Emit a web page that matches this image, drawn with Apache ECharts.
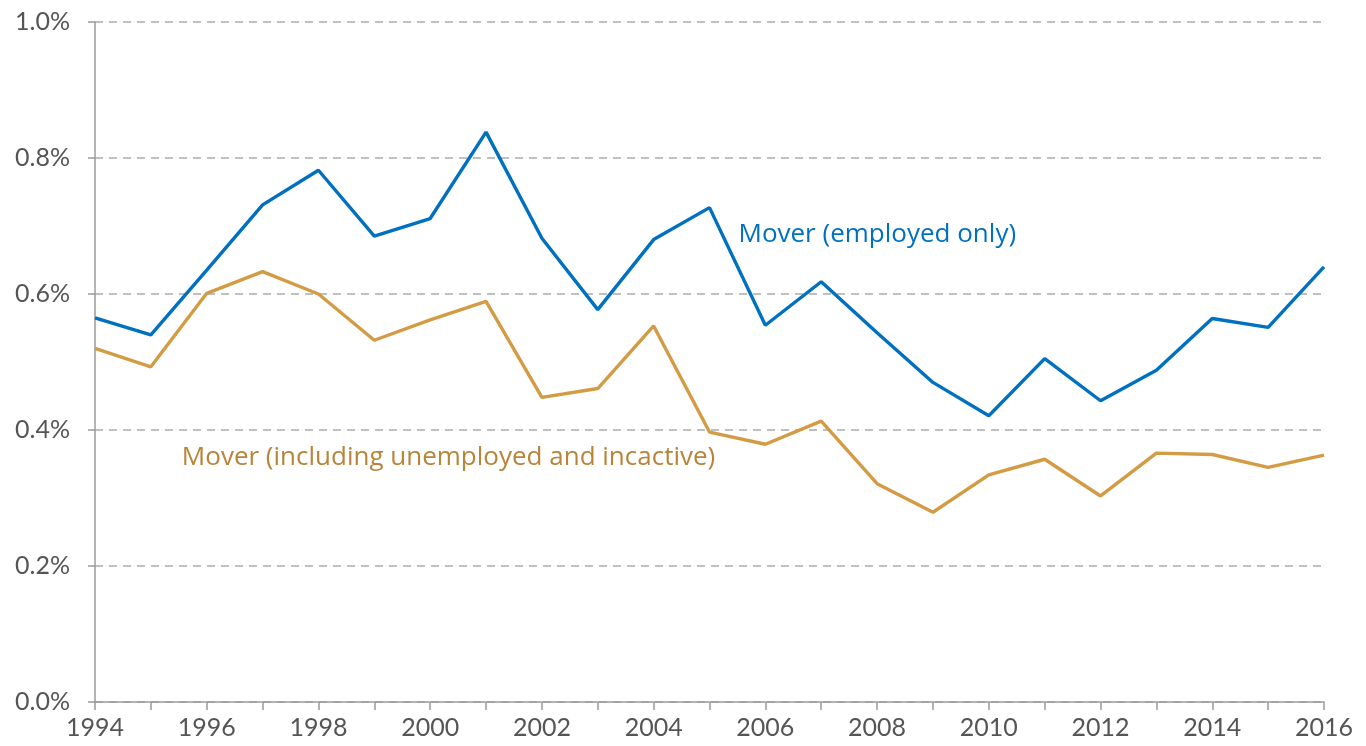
<!DOCTYPE html>
<html>
<head>
<meta charset="utf-8">
<script src="https://cdn.jsdelivr.net/npm/echarts@6/dist/echarts.min.js"></script>
<style>html,body{margin:0;padding:0;background:#fff}#c{width:1366px;height:746px}</style>
</head>
<body>
<div id="c"></div>
<script>
var years = ['1994','1995','1996','1997','1998','1999','2000','2001','2002','2003','2004','2005','2006','2007','2008','2009','2010','2011','2012','2013','2014','2015','2016'];
var employedOnly = [0.565,0.540,0.635,0.731,0.782,0.685,0.711,0.838,0.682,0.577,0.680,0.727,0.554,0.618,0.543,0.470,0.421,0.505,0.443,0.488,0.564,0.551,0.640];
var includingUnemployed = [0.520,0.493,0.601,0.633,0.600,0.532,0.562,0.589,0.448,0.461,0.553,0.397,0.379,0.413,0.321,0.279,0.334,0.357,0.303,0.366,0.364,0.345,0.363];
var yTicks = [0,0.2,0.4,0.6,0.8,1.0];
var labelEmployed = 'Mover (employed only)';
var labelIncluding = 'Mover (including unemployed and incactive)';

var chart = echarts.init(document.getElementById('c'));
var font = 'Lato, "Open Sans", sans-serif';
var annFont = '"Open Sans", Lato, sans-serif';
chart.setOption({
  animation: false,
  grid: {left: 95, right: 42, top: 22, bottom: 44},
  xAxis: {
    type: 'category',
    data: years,
    boundaryGap: false,
    axisLine: {lineStyle: {color: '#9a9a9a', width: 1.5}},
    axisTick: {show: true, interval: 0, length: 8, lineStyle: {color: '#9a9a9a', width: 1.5}},
    axisLabel: {interval: 1, color: '#555', fontSize: 25, fontFamily: font, margin: 13},
    splitLine: {show: false}
  },
  yAxis: {
    type: 'value',
    min: 0, max: 1.0, interval: 0.2,
    axisLine: {show: true, lineStyle: {color: '#9a9a9a', width: 1.5}},
    axisTick: {show: true, length: 7, lineStyle: {color: '#9a9a9a', width: 1.5}},
    axisLabel: {color: '#555', fontSize: 25, fontFamily: font, margin: 25,
      formatter: function (v) { return v.toFixed(1) + '%'; }},
    splitLine: {show: true, lineStyle: {color: '#aaaaaa', type: [8, 6], width: 1.5}}
  },
  series: [
    {
      name: labelEmployed, type: 'line', data: employedOnly,
      symbol: 'none', lineStyle: {color: '#0070c0', width: 3.4},
      markPoint: {
        symbol: 'circle', symbolSize: 0,
        data: [{coord: [11, 0.688], value: labelEmployed}],
        label: {show: true, position: 'right', distance: 0, offset: [29, 0], formatter: labelEmployed,
          color: '#0070c0', fontSize: 26, fontFamily: annFont}
      }
    },
    {
      name: labelIncluding, type: 'line', data: includingUnemployed,
      symbol: 'none', lineStyle: {color: '#d49b45', width: 3.4},
      markPoint: {
        symbol: 'circle', symbolSize: 0,
        data: [{coord: [1, 0.360], value: labelIncluding}],
        label: {show: true, position: 'right', distance: 0, offset: [31, 0], formatter: labelIncluding,
          color: '#b8843a', fontSize: 26, fontFamily: annFont}
      }
    }
  ]
});
</script>
</body>
</html>
